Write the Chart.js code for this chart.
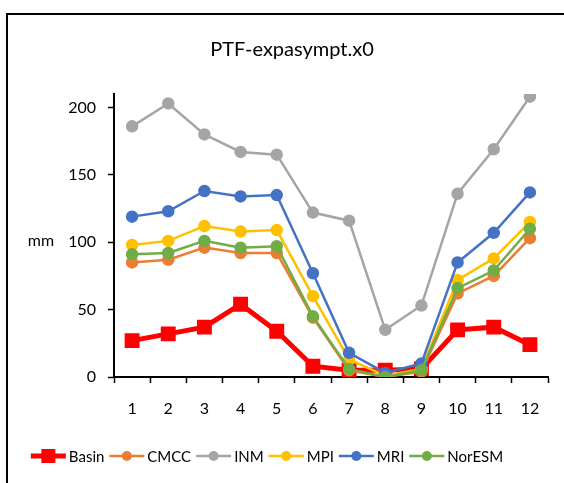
<!DOCTYPE html>
<html>
<head>
<meta charset="utf-8">
<script src="https://cdn.jsdelivr.net/npm/chart.js@4/dist/chart.umd.min.js"></script>
<style>
  html, body { margin: 0; padding: 0; background: #fff; }
  #wrap { width: 564px; height: 483px; }
</style>
</head>
<body>
<div id="wrap"><canvas id="ptfChart" width="564" height="483"></canvas></div>
<script>
var months = ['1', '2', '3', '4', '5', '6', '7', '8', '9', '10', '11', '12'];
var yTicks = [0, 50, 100, 150, 200];

var basin  = [27, 32, 37, 54, 34, 8, 5, 5, 6, 35, 37, 24];
var cmcc   = [85, 87, 96, 92, 92, 44, 5, 0, 4, 62, 75, 103];
var inm    = [186, 203, 180, 167, 165, 122, 116, 35, 53, 136, 169, 208];
var mpi    = [98, 101, 112, 108, 109, 60, 13, 1, 6, 72, 88, 115];
var mri    = [119, 123, 138, 134, 135, 77, 18, 3, 10, 85, 107, 137];
var noresm = [91, 92, 101, 96, 97, 45, 6, 0, 5, 66, 79, 110];

var fontFamily = 'Lato, "Open Sans", sans-serif';

function modelSet(label, data, color, order) {
    return {
        label: label,
        data: data,
        borderColor: color,
        backgroundColor: color,
        borderWidth: 2.5,
        pointRadius: 5,
        pointHoverRadius: 5,
        pointStyle: 'circle',
        order: order
    };
}

// border box, axis title, title and legend drawn by hand like the excel original
var decorations = {
    id: 'decorations',
    afterDraw: function (chart) {
        var c = chart.ctx;
        c.save();
        c.strokeStyle = '#000';
        c.lineWidth = 2;
        c.strokeRect(7, 14, 600, 500);

        c.fillStyle = '#000';
        c.font = '20px ' + fontFamily;
        c.textAlign = 'center';
        c.textBaseline = 'middle';
        c.fillText('PTF-expasympt.x0', 292, 50);

        c.font = '16px ' + fontFamily;
        c.fillText('mm', 41, 241);

        // legend
        c.font = '15px ' + fontFamily;
        var sets = chart.data.datasets;
        var lineLen = 35, gapText = 3, gapItem = 5;
        var total = 0;
        sets.forEach(function (ds) {
            total += lineLen + gapText + c.measureText(ds.label).width + gapItem;
        });
        total -= gapItem;
        var x = 267 - total / 2;
        var y = 456;
        c.textAlign = 'left';
        sets.forEach(function (ds) {
            c.strokeStyle = ds.borderColor;
            c.lineWidth = ds.borderWidth;
            c.beginPath();
            c.moveTo(x, y);
            c.lineTo(x + lineLen, y);
            c.stroke();
            c.fillStyle = ds.backgroundColor;
            if (ds.pointStyle === 'rect') {
                c.fillRect(x + lineLen / 2 - 7, y - 7, 14, 14);
            } else {
                c.beginPath();
                c.arc(x + lineLen / 2, y, 5, 0, Math.PI * 2);
                c.fill();
            }
            c.fillStyle = '#000';
            c.fillText(ds.label, x + lineLen + gapText, y + 1);
            x += lineLen + gapText + c.measureText(ds.label).width + gapItem;
        });
        c.restore();
    }
};

var ctx = document.getElementById('ptfChart').getContext('2d');

var myChart = new Chart(ctx, {
    type: 'line',
    data: {
        labels: months,
        datasets: [
            {
                label: 'Basin',
                data: basin,
                borderColor: '#FF0000',
                backgroundColor: '#FF0000',
                borderWidth: 5,
                pointStyle: 'rect',
                pointRadius: 7,
                pointHoverRadius: 7,
                order: 6
            },
            modelSet('CMCC', cmcc, '#ED7D31', 5),
            modelSet('INM', inm, '#A5A5A5', 4),
            modelSet('MPI', mpi, '#FFC000', 3),
            modelSet('MRI', mri, '#4472C4', 2),
            modelSet('NorESM', noresm, '#70AD47', 1)
        ]
    },
    options: {
        responsive: false,
        animation: false,
        layout: {
            padding: { left: 0, right: 16, top: 94, bottom: 66 }
        },
        plugins: {
            legend: { display: false },
            title: { display: false },
            tooltip: { enabled: false }
        },
        scales: {
            x: {
                type: 'category',
                offset: true,
                afterFit: function (scale) { scale.height = 40; },
                grid: {
                    display: true,
                    offset: true,
                    drawOnChartArea: false,
                    drawTicks: true,
                    tickLength: 6,
                    tickWidth: 1.5,
                    tickColor: '#000'
                },
                border: { display: true, color: '#000', width: 2 },
                ticks: {
                    color: '#000',
                    padding: 16,
                    maxRotation: 0,
                    font: { family: fontFamily, size: 16 }
                }
            },
            y: {
                min: 0,
                max: 210,
                afterFit: function (scale) { scale.width = 114; },
                afterBuildTicks: function (scale) {
                    scale.ticks = yTicks.map(function (v) { return { value: v }; });
                },
                grid: {
                    display: true,
                    drawOnChartArea: false,
                    drawTicks: true,
                    tickLength: 6,
                    tickWidth: 1.5,
                    tickColor: '#000'
                },
                border: { display: true, color: '#000', width: 2 },
                ticks: {
                    color: '#000',
                    padding: 12,
                    stepSize: 50,
                    font: { family: fontFamily, size: 16 }
                }
            }
        }
    },
    plugins: [decorations]
});
</script>
</body>
</html>
